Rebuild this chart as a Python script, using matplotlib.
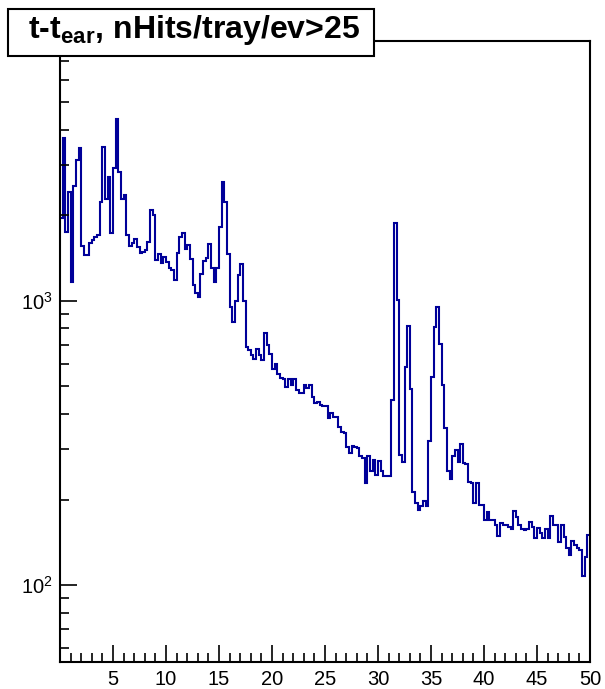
import numpy as np
import matplotlib
matplotlib.use("Agg")
import matplotlib.pyplot as plt
from matplotlib.ticker import LogLocator, MultipleLocator, FixedLocator, LogFormatterMathtext, NullFormatter
from matplotlib.patches import Rectangle

plt.rcParams['font.family'] = ['Liberation Sans', 'DejaVu Sans']
plt.rcParams['mathtext.fontset'] = 'custom'
plt.rcParams['mathtext.rm'] = 'Liberation Sans'
plt.rcParams['mathtext.bf'] = 'Liberation Sans:bold'
plt.rcParams['mathtext.it'] = 'Liberation Sans:italic'

title = r"t-t$_{\mathbf{ear}}$, nHits/tray/ev>25"
x_min, x_max, n_bins = 0.0, 50.0, 200
x_ticks = [5, 10, 15, 20, 25, 30, 35, 40, 45, 50]
x_tick_labels = ["5", "10", "15", "20", "25", "30", "35", "40", "45", "50"]

counts_a = [1955, 3740, 1754, 2426, 1170, 2541, 3137, 3449, 1566, 1452,
            1452, 1596, 1640, 1685, 1700, 2237, 3494, 2280, 2740, 1731,
            2932, 4362, 2854, 2280, 2362, 1708, 1566, 1596, 1649, 1553,
            1472, 1492, 1512, 1618, 2092, 2008, 1394, 1464, 1357, 1425,
            1375, 1303, 1286, 1186, 1472, 1675, 1731, 1520, 1575, 1402,
            1139, 1070, 1036, 1245, 1387, 1413, 1587, 1303, 1170, 1303,
            1826, 2632, 2237, 1464, 955, 846, 1002, 1235, 1346, 1000,
            690]
counts_b = [672, 645, 625, 676, 645, 620, 769, 700, 649,
            576, 600, 553, 534, 530, 499, 530, 506, 531, 486,
            473, 473, 506, 493, 506, 460, 436, 442, 430, 428,
            428, 386, 402, 391, 391, 361, 347, 342, 305, 291,
            309, 305, 303, 285, 279, 228, 285, 252, 275, 244,
            274, 251, 242, 242, 242, 448, 1877, 1008, 287, 272,
            587, 819, 489, 213, 194]
counts_c = [183, 190, 198, 190, 322, 538, 808, 955, 706, 506,
            356, 253, 237, 285, 299, 272, 313, 268, 267, 231,
            228, 194, 229, 191, 191, 170, 181, 170, 169, 163,
            149, 166, 163, 163, 160, 158, 182, 173, 163, 158,
            156, 157, 167, 160, 146, 159, 152, 146, 158, 146,
            175, 163, 163, 142, 163, 148, 135, 128, 143, 138,
            135, 133, 108, 126, 150]

counts = np.array(counts_a + counts_b + counts_c, dtype=float)
edges = np.linspace(x_min, x_max, n_bins + 1)

fig = plt.figure(figsize=(6.05, 6.89), dpi=100)
ax = fig.add_axes([60/605, 27/689, 530/605, (662-41)/689])

ax.stairs(counts, edges, color='#000099', linewidth=1.5, baseline=None)

ax.set_yscale('log')
ax.set_xlim(x_min, x_max)
ax.set_ylim(53.6, 8220)

ax.xaxis.set_major_locator(FixedLocator(x_ticks))
ax.set_xticklabels(x_tick_labels)
ax.xaxis.set_minor_locator(MultipleLocator(1))
ax.yaxis.set_major_locator(LogLocator(base=10, numticks=10))
ax.yaxis.set_minor_locator(LogLocator(base=10, subs=np.arange(2, 10), numticks=20))
ax.yaxis.set_major_formatter(LogFormatterMathtext())
ax.yaxis.set_minor_formatter(NullFormatter())

ax.tick_params(axis='both', which='major', direction='in', length=12.5, width=1.2,
               labelsize=14.5, top=False, right=False)
ax.tick_params(axis='both', which='minor', direction='in', length=6.5, width=1.2,
               top=False, right=False)
ax.tick_params(axis='x', which='major', pad=6)
ax.tick_params(axis='y', which='major', pad=5)
for s in ax.spines.values():
    s.set_linewidth(1.5)

# title box
fig.patches.append(Rectangle((8/605, 1 - 56/689), (374-8)/605, 47/689,
                             transform=fig.transFigure, facecolor='white',
                             edgecolor='black', linewidth=1.5, zorder=5))
fig.text((8+374)/2/605 + 3/605, 1 - 30/689, title, ha='center', va='center',
         fontsize=23, fontweight='bold', zorder=6)

fig.savefig('out.png', dpi=100)
